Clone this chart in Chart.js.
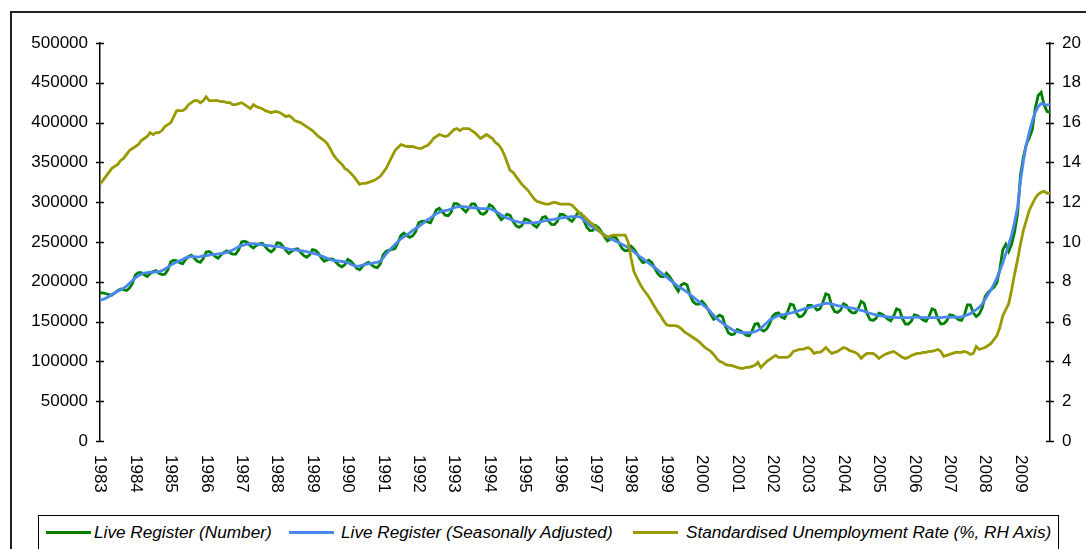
<!DOCTYPE html>
<html>
<head>
<meta charset="utf-8">
<script src="https://cdn.jsdelivr.net/npm/chart.js@4.4.0/dist/chart.umd.min.js"></script>
<style>
    html, body { margin: 0; padding: 0; background: #fff; }
    body { width: 1086px; height: 549px; position: relative; overflow: hidden; font-family: "Liberation Sans", Arial, sans-serif; }
    #frame { position: absolute; left: 10px; top: 11px; width: 1200px; height: 700px; border-left: 2px solid #222; border-top: 2px solid #222; }
    #chart { position: absolute; left: 0; top: 0; }
    #legend { position: absolute; left: 38px; top: 515px; width: 1019px; height: 60px; border: 1px solid #000; background: #fff; }
    .swatch { position: absolute; top: 15px; width: 45px; height: 3px; }
    .item { position: absolute; top: 6px; line-height: 20px; font-size: 17.2px; font-style: italic; color: #000; white-space: nowrap; }
</style>
</head>
<body>
<div id="frame"></div>
<canvas id="chart" width="1086" height="549"></canvas>
<div id="legend">
    <div class="swatch" style="left:7px;background:#008000"></div>
    <div class="item" style="left:55px">Live Register (Number)</div>
    <div class="swatch" style="left:250px;background:#4a88f0"></div>
    <div class="item" style="left:302px">Live Register (Seasonally Adjusted)</div>
    <div class="swatch" style="left:594px;background:#999900"></div>
    <div class="item" style="left:647px">Standardised Unemployment Rate (%, RH Axis)</div>
</div>
<script>
// monthly, Jan 1983 .. Nov 2009
const years = [1983, 1984, 1985, 1986, 1987, 1988, 1989, 1990, 1991, 1992, 1993, 1994, 1995,
    1996, 1997, 1998, 1999, 2000, 2001, 2002, 2003, 2004, 2005, 2006, 2007, 2008, 2009];

// Live Register, thousands
const liveRegister = [
    186, 186, 185, 184, 183, 186, 189, 191, 190, 189, 192, 198,
    208.8, 211.6, 211.4, 208.8, 206.6, 210.5, 212.8, 214, 210.6, 209.1, 209.6, 215.1,
    225.1, 227.1, 226.5, 223.9, 222.7, 228.1, 231.8, 233.5, 229.6, 225.7, 224.4, 229.1,
    237.5, 238, 235.5, 231.9, 229.7, 233.6, 236.8, 238.9, 236.6, 234.7, 234.9, 240.3,
    250, 251, 249.4, 245, 242.4, 245.6, 247.8, 248.4, 244.1, 239.9, 237.5, 240.8,
    249, 248.5, 244.9, 239.4, 235.7, 238.6, 240.8, 241.4, 237.1, 233.2, 230.9, 233.6,
    240.5, 239.5, 235.9, 229.9, 225.7, 227.6, 228.8, 228.5, 224.6, 220.7, 218.8, 221.6,
    228.1, 226.1, 222, 216.9, 215.1, 219.5, 222.8, 224.4, 221.5, 218.7, 217.8, 222.6,
    234.2, 238.5, 239.7, 240.6, 241.8, 249.5, 258.2, 261.1, 258, 255.9, 257.9, 263.2,
    274.1, 275.9, 276.1, 275.2, 274.1, 282, 290.4, 292.4, 288, 283.6, 283, 287.3,
    298.3, 298.2, 295.6, 291.4, 287.7, 292.5, 297.9, 297.9, 291.5, 285.7, 285, 287.8,
    296.9, 294.7, 289.6, 283.4, 278.1, 281, 284.9, 283.4, 276, 270.4, 268.4, 270.7,
    278.9, 277.9, 275.1, 271.2, 268.6, 274, 280.9, 281.9, 276.5, 272, 271.9, 275.7,
    284.9, 284.4, 282, 278.4, 276, 281, 286.9, 285.9, 277, 268.6, 264.4, 264.7,
    270.6, 267.9, 262.6, 256.2, 251.3, 253.5, 257, 255, 248.3, 241.8, 239, 239.5,
    244.7, 241, 235.2, 229, 224.1, 225.3, 227.3, 224.3, 217.3, 210.4, 206.7, 206.2,
    211, 207, 201, 194, 188, 196, 198, 196, 183, 175, 172, 172,
    175.5, 171.5, 166, 159, 153, 155.5, 158, 156, 144, 136, 133.5, 134.5,
    140, 138.5, 136, 133, 132, 138, 147, 147.5, 140, 138, 141, 147.5,
    157, 160, 161, 155.5, 154, 161.5, 172, 171, 161, 156, 157, 161.5,
    170.5, 170.5, 169, 164.5, 166, 174, 185, 183.5, 170, 162.5, 161.5, 164.5,
    172.5, 170.5, 164, 161, 161, 166.5, 175.5, 173, 160, 152.5, 151.5, 154,
    160.5, 159.5, 156.5, 153, 151, 157, 166, 164.5, 153.5, 147, 147, 150.5,
    158.5, 157.5, 155, 152, 150.5, 156.5, 166, 164.5, 153.5, 147, 147.5, 151,
    158.5, 158, 155.5, 152.5, 151.5, 158.5, 171, 171, 161, 156.5, 159.5, 167,
    181.5, 186.5, 190, 193, 199, 216, 240, 247, 238, 247, 263, 285,
    334, 357, 373, 381, 391, 418, 434, 438, 422, 414, 413
];

// Live Register seasonally adjusted, thousands
const liveRegisterSA = [
    177, 178, 179.5, 181.5, 184, 186, 188, 190, 192, 194.5, 198, 201.5,
    205, 207.5, 209.5, 211, 211.5, 212, 212, 212.5, 212.5, 214, 216, 218.5,
    221, 223, 225, 226.5, 228, 230, 231, 232, 231.5, 231, 231.5, 232.5,
    233, 233.5, 234, 234.5, 235, 235.5, 236, 237, 238.5, 240, 242, 244,
    245.5, 246.5, 247.5, 248, 248, 247.5, 247, 246.5, 246, 245.5, 245, 244.5,
    244.5, 244, 243, 242, 241, 240.5, 240, 239.5, 239, 238.5, 238, 237,
    236, 235, 234, 232.5, 231, 229.5, 228, 227, 226.5, 226, 225.5, 225,
    224, 222, 220.5, 219.5, 220, 221, 222, 222.5, 223, 224, 224.5, 226,
    230, 235, 239, 243, 247, 250.5, 254, 256.5, 259, 261.5, 264.5, 267,
    269.5, 272, 275, 278, 280, 283, 285.5, 287.5, 289, 289.5, 290, 291.5,
    293, 294, 294.5, 294.5, 294, 293.5, 293, 293, 292.5, 292, 292, 292,
    292, 290.5, 288.5, 286.5, 284, 282, 280, 278.5, 277, 276, 275, 274.5,
    274, 274, 274, 274, 274.5, 275, 276, 277, 277.5, 278, 278.5, 279.5,
    280, 280.5, 281, 281.5, 282, 282, 282, 281, 278, 274.5, 271, 268.5,
    266, 264, 261.5, 259, 256.5, 254.5, 252.5, 250.5, 249, 247, 245, 243,
    240.5, 237.5, 234.5, 231.5, 229, 226, 223.5, 220.5, 218, 215, 212, 209,
    206, 203, 200, 197, 194, 192, 189.5, 187, 184, 181, 178, 175,
    172, 169, 166, 162, 158, 154, 151, 148, 145.5, 143, 140.5, 138.5,
    137.5, 136.5, 136, 136, 136, 136.5, 137.5, 139, 141.5, 145, 148.5, 152,
    154, 156, 157.5, 158.5, 159, 160, 160.5, 161.5, 162.5, 164, 165, 166.5,
    167, 168, 169, 170, 171, 172, 173, 173, 172, 171, 170, 169.5,
    169, 168, 167.5, 167, 166, 165, 164, 163, 161.5, 160.5, 159.5, 158.5,
    157.5, 157, 156.5, 156, 155.5, 155.5, 155, 155, 155, 155, 155, 155,
    155.5, 155.5, 155, 155, 155, 155, 155, 155, 155, 155, 155.5, 155.5,
    155.5, 155.5, 155.5, 155.5, 156, 157, 158.5, 160, 162.5, 165, 168, 172,
    178, 184, 190, 197, 205, 214, 224, 235, 247, 259, 275, 293,
    327, 352, 373, 388, 402, 413, 420, 424, 423, 422, 423
];

// Standardised unemployment rate, %
const unemploymentRate = [
    12.9, 13.1, 13.3, 13.5, 13.7, 13.8, 13.9, 14.1, 14.2, 14.4, 14.6, 14.7,
    14.8, 14.9, 15.1, 15.2, 15.3, 15.5, 15.4, 15.5, 15.5, 15.6, 15.8, 15.9,
    16.0, 16.3, 16.6, 16.6, 16.6, 16.7, 16.9, 17.0, 17.1, 17.1, 17.0, 17.1,
    17.3, 17.1, 17.1, 17.1, 17.1, 17.05, 17.05, 17.0, 17.0, 16.9, 16.9, 16.95,
    17.0, 16.9, 16.8, 16.7, 16.9, 16.8, 16.75, 16.7, 16.6, 16.55, 16.5, 16.55,
    16.55, 16.5, 16.4, 16.3, 16.35, 16.25, 16.1, 16.05, 16.0, 15.9, 15.8, 15.7,
    15.6, 15.45, 15.3, 15.2, 15.1, 14.95, 14.7, 14.4, 14.2, 14.05, 13.9, 13.7,
    13.6, 13.45, 13.3, 13.1, 12.9, 12.95, 12.95, 13.0, 13.05, 13.1, 13.2, 13.3,
    13.5, 13.7, 14.0, 14.3, 14.6, 14.75, 14.9, 14.85, 14.8, 14.8, 14.8, 14.75,
    14.7, 14.7, 14.8, 14.85, 15.0, 15.2, 15.3, 15.4, 15.35, 15.3, 15.35, 15.5,
    15.65, 15.7, 15.6, 15.7, 15.7, 15.7, 15.6, 15.5, 15.35, 15.2, 15.3, 15.4,
    15.3, 15.2, 15.0, 14.9, 14.7, 14.4, 14.0, 13.6, 13.5, 13.3, 13.1, 12.9,
    12.75, 12.6, 12.4, 12.2, 12.05, 12.0, 11.95, 11.9, 11.9, 11.95, 12.0, 11.95,
    11.9, 11.9, 11.9, 11.9, 11.85, 11.7, 11.55, 11.4, 11.3, 11.15, 11.0, 10.9,
    10.75, 10.6, 10.45, 10.3, 10.25, 10.3, 10.35, 10.35, 10.35, 10.35, 10.35, 10.0,
    9.2, 8.5, 8.2, 7.9, 7.65, 7.45, 7.25, 7.0, 6.75, 6.5, 6.3, 6.05,
    5.85, 5.8, 5.8, 5.8, 5.75, 5.65, 5.5, 5.4, 5.3, 5.2, 5.1, 5.0,
    4.85, 4.7, 4.6, 4.5, 4.35, 4.15, 4.0, 3.95, 3.85, 3.8, 3.8, 3.75,
    3.7, 3.65, 3.65, 3.7, 3.7, 3.75, 3.8, 3.95, 3.7, 3.85, 4.0, 4.1,
    4.2, 4.3, 4.2, 4.2, 4.2, 4.2, 4.3, 4.5, 4.55, 4.6, 4.6, 4.65,
    4.7, 4.6, 4.4, 4.45, 4.45, 4.55, 4.7, 4.55, 4.4, 4.45, 4.5, 4.6,
    4.7, 4.65, 4.55, 4.5, 4.45, 4.35, 4.15, 4.3, 4.4, 4.4, 4.4, 4.3,
    4.15, 4.25, 4.35, 4.4, 4.45, 4.5, 4.4, 4.3, 4.2, 4.15, 4.2, 4.3,
    4.35, 4.4, 4.4, 4.45, 4.45, 4.5, 4.5, 4.55, 4.6, 4.5, 4.25, 4.3,
    4.35, 4.4, 4.45, 4.45, 4.45, 4.5, 4.45, 4.35, 4.4, 4.75, 4.6, 4.65,
    4.7, 4.8, 4.9, 5.1, 5.3, 5.7, 6.3, 6.6, 6.9, 7.6, 8.4, 9.1,
    9.9, 10.6, 11.1, 11.6, 11.9, 12.2, 12.4, 12.5, 12.55, 12.45, 12.45
];

const FONT = '"Liberation Sans", Arial, sans-serif';
const toPoints = (arr, k = 1) => arr.map((v, i) => ({ x: i, y: v * k }));

// Excel-style ticks crossing both y axes
const crossTicks = {
    id: 'crossTicks',
    afterDraw(chart) {
        const { ctx, chartArea } = chart;
        ctx.save();
        ctx.strokeStyle = '#000';
        ctx.lineWidth = 1.5;
        [['y', chartArea.left], ['y2', chartArea.right]].forEach(([id, ax]) => {
            const s = chart.scales[id];
            s.ticks.forEach(t => {
                const py = Math.round(s.getPixelForValue(t.value)) + 0.5;
                ctx.beginPath();
                ctx.moveTo(ax - 4, py);
                ctx.lineTo(ax + 4, py);
                ctx.stroke();
            });
        });
        ctx.restore();
    }
};

// year labels, rotated to read top-down
const yearLabels = {
    id: 'yearLabels',
    afterDraw(chart) {
        const { ctx, chartArea } = chart;
        const x = chart.scales.x;
        ctx.save();
        ctx.font = `17px ${FONT}`;
        ctx.fillStyle = '#000';
        ctx.textAlign = 'left';
        ctx.textBaseline = 'middle';
        years.forEach((yr, i) => {
            ctx.save();
            ctx.translate(x.getPixelForValue(i * 12), chartArea.bottom + 14);
            ctx.rotate(Math.PI / 2);
            ctx.fillText(String(yr), 0, 0);
            ctx.restore();
        });
        ctx.restore();
    }
};

const tickFont = { family: FONT, size: 17 };

new Chart(document.getElementById('chart'), {
    type: 'line',
    data: {
        datasets: [{
            label: 'Live Register (Number)',
            data: toPoints(liveRegister, 1000),
            borderColor: '#008000',
            borderWidth: 2.8,
            pointRadius: 0,
            yAxisID: 'y',
            order: 3
        }, {
            label: 'Live Register (Seasonally Adjusted)',
            data: toPoints(liveRegisterSA, 1000),
            borderColor: '#4a88f0',
            borderWidth: 2.8,
            pointRadius: 0,
            yAxisID: 'y',
            order: 2
        }, {
            label: 'Standardised Unemployment Rate (%, RH Axis)',
            data: toPoints(unemploymentRate),
            borderColor: '#999900',
            borderWidth: 2.8,
            pointRadius: 0,
            yAxisID: 'y2',
            order: 1
        }]
    },
    options: {
        responsive: false,
        animation: false,
        layout: { padding: { top: 43, bottom: 108, left: 0, right: 0 } },
        plugins: { legend: { display: false }, tooltip: { enabled: false } },
        scales: {
            x: { type: 'linear', min: 0, max: 322, display: false },
            y: {
                position: 'left',
                min: 0, max: 500000,
                ticks: { stepSize: 50000, color: '#000', font: tickFont, padding: 12, callback: v => String(v) },
                grid: { drawOnChartArea: false, drawTicks: false },
                border: { color: '#000', width: 1.5 },
                afterFit: s => { s.width = 100; }
            },
            y2: {
                position: 'right',
                min: 0, max: 20,
                ticks: { stepSize: 2, color: '#000', font: tickFont, padding: 12, callback: v => String(v) },
                grid: { drawOnChartArea: false, drawTicks: false },
                border: { color: '#000', width: 1.5 },
                afterFit: s => { s.width = 36; }
            }
        }
    },
    plugins: [crossTicks, yearLabels]
});
</script>
</body>
</html>
